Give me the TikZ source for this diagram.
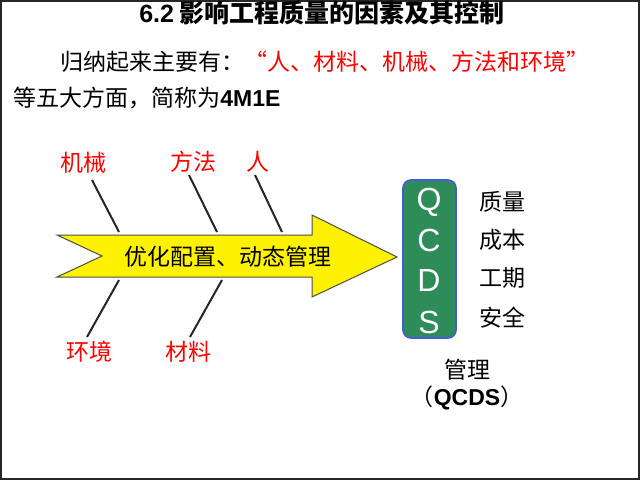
\documentclass[tikz,border=0pt]{standalone}
\usepackage{fontspec}
\setmainfont{Liberation Sans}
\newfontfamily\cjk{Noto Sans CJK SC}
\usetikzlibrary{positioning}
\definecolor{boxgreen}{RGB}{46,140,88}
\definecolor{boxblue}{RGB}{70,90,220}

\begin{document}
\begin{tikzpicture}[x=0.5pt, y=-0.5pt, font=\cjk\fontsize{11.5}{14}\selectfont,
		factor/.style={text=red, inner sep=0pt},
		goal/.style={inner sep=0pt},
		letter/.style={text=white, inner sep=0pt, font=\fontsize{16}{18}\selectfont},
		bone/.style={line width=1pt, black!85}]
		\useasboundingbox (0,0) rectangle (640,480);
		\draw[line width=1pt, black!85] (1,1) rectangle (639,479);
		% heading lines
		\node[inner sep=0pt, font=\cjk\bfseries\fontsize{12.5}{15}\selectfont] (title) at (322,13) {{\rmfamily 6.2} 影响工程质量的因素及其控制};
		\node[inner sep=0pt, anchor=west] (line2) at (60,62) {归纳起来主要有：\textcolor{red}{“人、材料、机械、方法和环境”}};
		\node[inner sep=0pt, anchor=west] (line3) at (13,98) {等五大方面，简称为{\rmfamily\bfseries 4M1E}};
		% arrow
		\draw[fill=yellow, draw=black!70, line width=0.5pt] (57,235) -- (312,235) -- (312,215) -- (397,257) -- (312,297) -- (312,277) -- (57,277) -- (102,256) -- cycle;
		\node[inner sep=0pt] (main) at (228,257) {优化配置、动态管理};
		% factors
		\node[factor] (jixie) at (83,163) {机械};
		\node[factor] (fangfa) at (193,162) {方法};
		\node[factor] (ren) at (258,162) {人};
		\node[factor] (huanjing) at (89,352) {环境};
		\node[factor] (cailiao) at (188,352) {材料};
		\coordinate (jx1) at (92,180); \coordinate (jx2) at (119,232);
		\coordinate (ff1) at (189,175); \coordinate (ff2) at (217,232);
		\coordinate (rn1) at (255,175); \coordinate (rn2) at (282,232);
		\coordinate (hj1) at (119,280); \coordinate (hj2) at (87,337);
		\coordinate (cl1) at (222,280); \coordinate (cl2) at (190,337);
		\draw[bone] (jx1) -- (jx2);
		\draw[bone] (ff1) -- (ff2);
		\draw[bone] (rn1) -- (rn2);
		\draw[bone] (hj1) -- (hj2);
		\draw[bone] (cl1) -- (cl2);
		% QCDS
		\node[draw=boxblue, fill=boxgreen, line width=0.8pt, rounded corners=4pt, minimum width=26.5pt, minimum height=79pt] (box) at (429.5,259) {};
		\node[letter] (q) at (429,202) {Q};
		\node[letter] (c) at (429,240) {C};
		\node[letter] (d) at (429,280) {D};
		\node[letter] (s) at (429,322) {S};
		\node[goal] (zl) at (502,202) {质量};
		\node[goal] (cb) at (502,240) {成本};
		\node[goal] (gq) at (502,278) {工期};
		\node[goal] (aq) at (502,318) {安全};
		\node[goal] (gl) at (467,370) {管理};
		\node[goal] (qcds) at (467,398) {（{\rmfamily\bfseries QCDS}）};
	\end{tikzpicture}
\end{document}
